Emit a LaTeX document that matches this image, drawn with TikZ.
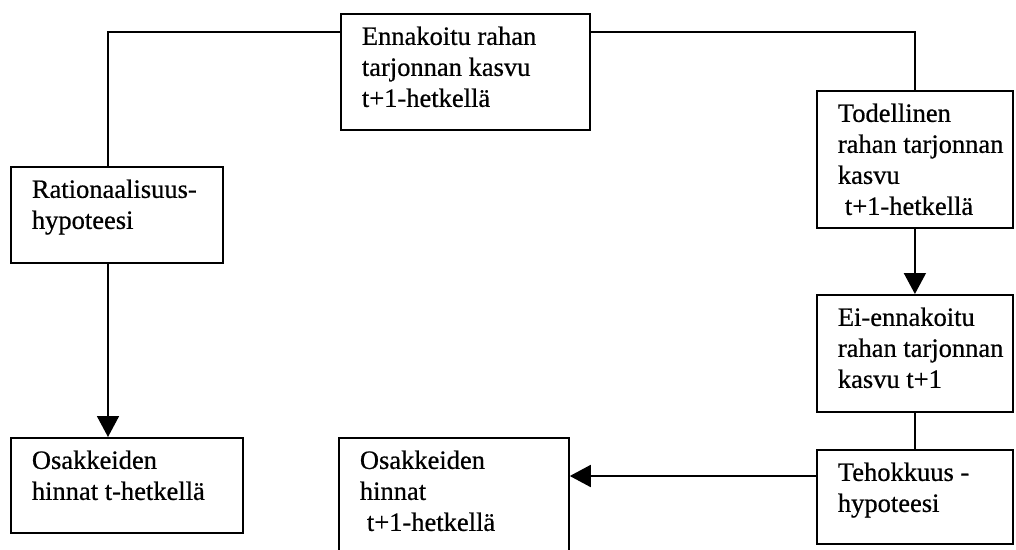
\documentclass[tikz,border=0pt]{standalone}
\usepackage{fontspec}
\setmainfont{Liberation Serif}[FakeBold=0.6]
\usepackage{tikz}
\usetikzlibrary{arrows.meta}
\newcommand{\boxtxt}[3]{\parbox[t][#2][t]{#1}{\leftskip=21pt\rule{0pt}{31pt}#3}}

\begin{document}
\begin{tikzpicture}[x=1pt,y=1pt,yscale=-1,xscale=1,
  box/.style={draw, line width=1.8pt, anchor=north west, inner sep=0pt, font=\fontsize{26.5}{31}\selectfont},
  link/.style={line width=1.8pt},
  flow/.style={line width=1.8pt, -{Triangle[length=21pt,width=22pt]}}]
\useasboundingbox (0,0) rectangle (1016,549);

%Shape: Rectangle
\node[box] (ennak) at (340,13) {\boxtxt{249pt}{116pt}{Ennakoitu rahan\\tarjonnan kasvu\\t+1-hetkellä}};
%Shape: Rectangle
\node[box] (todell) at (816,90) {\boxtxt{196pt}{137pt}{Todellinen\\rahan tarjonnan\\kasvu\\\hspace*{7pt}t+1-hetkellä}};
%Shape: Rectangle
\node[box] (rational) at (10,166) {\boxtxt{212pt}{96pt}{Rationaalisuus-\\hypoteesi}};
%Shape: Rectangle
\node[box] (eienn) at (816,294) {\boxtxt{196pt}{117pt}{Ei-ennakoitu\\rahan tarjonnan\\kasvu t+1}};
%Shape: Rectangle
\node[box] (osak5) at (10,437) {\boxtxt{232pt}{95pt}{Osakkeiden\\hinnat t-hetkellä}};
%Shape: Rectangle
\node[box] (osak6) at (338,437) {\boxtxt{230pt}{119pt}{Osakkeiden\\hinnat\\\hspace*{7pt}t+1-hetkellä}};
%Shape: Rectangle
\node[box] (tehokk) at (816,449) {\boxtxt{196pt}{94pt}{Tehokkuus -\\hypoteesi}};

\coordinate (topline) at (0,32);
\coordinate (leftcol) at (108,0);
\coordinate (flowline) at (0,476);

%Straight Lines
\draw[link] (ennak.west |- topline) -| (leftcol |- rational.north);
%Straight Lines
\draw[link] (ennak.east |- topline) -| (todell.north);
%Straight Lines
\draw[flow] (todell.south) -- (eienn.north);
%Straight Lines
\draw[link] (eienn.south) -- (tehokk.north);
%Straight Lines
\draw[flow] (leftcol |- rational.south) -- (leftcol |- osak5.north);
%Straight Lines
\draw[flow] (tehokk.west |- flowline) -- (osak6.east |- flowline);

\end{tikzpicture}
\end{document}
